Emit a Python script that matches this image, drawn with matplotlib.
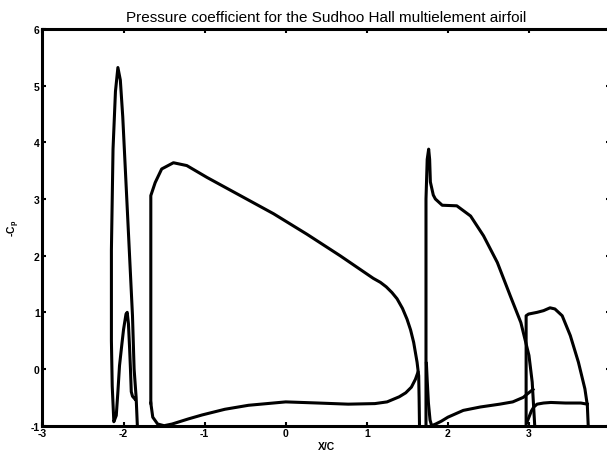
import matplotlib
matplotlib.use("Agg")
import matplotlib.pyplot as plt

# slat: one loop (big suction peak, then the small bump in the cove)
slat_x = [-1.83, -1.845, -1.87, -1.89, -1.95, -2.01, -2.04, -2.07, -2.10,
          -2.13, -2.15, -2.15, -2.14, -2.12, -2.09, -2.07, -2.05, -2.02,
          -2.0, -1.97, -1.955, -1.94, -1.925, -1.915, -1.905, -1.89, -1.86]
slat_y = [-1.0, -0.5, 0.0, 0.94, 2.7, 4.45, 5.1, 5.32, 4.9,
          3.88, 2.1, 0.5, -0.3, -0.93, -0.82, -0.4, 0.06, 0.45,
          0.7, 0.97, 1.0, 0.8, 0.35, 0.0, -0.4, -0.48, -0.53]

# main element
main_up_x = [1.65, 1.645, 1.64, 1.62, 1.578, 1.54, 1.496, 1.44, 1.373, 1.31,
             1.24, 1.167, 1.08, 0.67, 0.26, -0.15, -0.56, -0.97, -1.22,
             -1.385, -1.53, -1.61, -1.664, -1.664]
main_up_y = [-1.0, -0.5, -0.12, 0.12, 0.47, 0.69, 0.88, 1.07, 1.24, 1.35,
             1.45, 1.53, 1.60, 2.0, 2.38, 2.74, 3.06, 3.38, 3.59,
             3.64, 3.53, 3.29, 3.06, -0.6]
main_lo_x = [-1.664, -1.64, -1.58, -1.5, -1.4, -1.2, -1.03, -0.75, -0.46, 0.0,
             0.4, 0.77, 1.1, 1.25, 1.4, 1.48, 1.55, 1.6, 1.63]
main_lo_y = [-0.6, -0.85, -0.97, -1.0, -0.97, -0.88, -0.81, -0.71, -0.64, -0.58,
             -0.6, -0.62, -0.61, -0.58, -0.49, -0.42, -0.32, -0.18, -0.06]

# first flap
flap1_up_x = [1.73, 1.73, 1.745, 1.763, 1.775, 1.784, 1.82, 1.846, 1.93, 2.11,
              2.28, 2.44, 2.61, 2.77, 2.90, 3.0, 3.04, 3.07]
flap1_up_y = [-1.0, 3.0, 3.7, 3.88, 3.7, 3.3, 3.07, 3.0, 2.89, 2.88,
              2.70, 2.35, 1.88, 1.29, 0.82, 0.24, -0.23, -0.97]
flap1_lo_x = [1.735, 1.745, 1.76, 1.78, 1.80, 1.85, 1.92, 2.0, 2.19, 2.4,
              2.64, 2.8, 2.93, 2.98, 3.05]
flap1_lo_y = [0.1, -0.2, -0.6, -0.9, -1.0, -0.97, -0.92, -0.85, -0.73, -0.67,
              -0.62, -0.58, -0.5, -0.44, -0.36]

# second flap
flap2_up_x = [2.965, 2.965, 2.995, 3.1, 3.18, 3.26, 3.32, 3.41, 3.51, 3.61,
              3.69, 3.72, 3.73]
flap2_up_y = [-1.0, 0.94, 0.97, 1.0, 1.03, 1.08, 1.06, 0.94, 0.59, 0.12,
              -0.35, -0.64, -0.97]
flap2_lo_x = [2.975, 3.0, 3.03, 3.06, 3.10, 3.18, 3.27, 3.45, 3.64, 3.72]
flap2_lo_y = [-0.94, -0.85, -0.74, -0.67, -0.62, -0.6, -0.59, -0.6, -0.6, -0.62]

x_ticks = [-3, -2, -1, 0, 1, 2, 3, 4]
# the 4 label lies past the right edge of the picture
x_labels = ["-3", "-2", "-1", "0", "1", "2", "3", ""]
y_ticks = [-1, 0, 1, 2, 3, 4, 5, 6]

plt.rcParams["font.family"] = ["Liberation Sans", "DejaVu Sans"]
plt.rcParams["mathtext.default"] = "regular"
plt.rcParams["axes.unicode_minus"] = False

fig = plt.figure(figsize=(6.07, 4.6), dpi=100)
ax = fig.add_axes([0.070, 0.0724, 0.935, 0.8624])

lw = 2.2
for xs, ys in [(slat_x, slat_y), (main_up_x, main_up_y), (main_lo_x, main_lo_y),
               (flap1_up_x, flap1_up_y), (flap1_lo_x, flap1_lo_y),
               (flap2_up_x, flap2_up_y), (flap2_lo_x, flap2_lo_y)]:
    ax.plot(xs, ys, color="black", lw=lw, solid_joinstyle="round")

ax.set_xlim(-3, 4)
ax.set_ylim(-1, 6)
ax.set_xticks(x_ticks)
ax.set_xticklabels(x_labels)
ax.set_yticks(y_ticks)
ax.tick_params(direction="in", length=3, width=1.5, top=True, right=True,
               labelsize=7.5, pad=2)
for lab in ax.get_xticklabels() + ax.get_yticklabels():
    lab.set_fontweight("bold")
for s in ax.spines.values():
    s.set_linewidth(2.2)

ax.set_title("Pressure coefficient for the Sudhoo Hall multielement airfoil",
             fontsize=11, pad=6)
ax.set_xlabel("X/C", fontsize=7.5, fontweight="bold", labelpad=2)
ax.set_ylabel("-C$_p$", fontsize=7.5, fontweight="bold", labelpad=6)

fig.savefig("out.png", dpi=100)
